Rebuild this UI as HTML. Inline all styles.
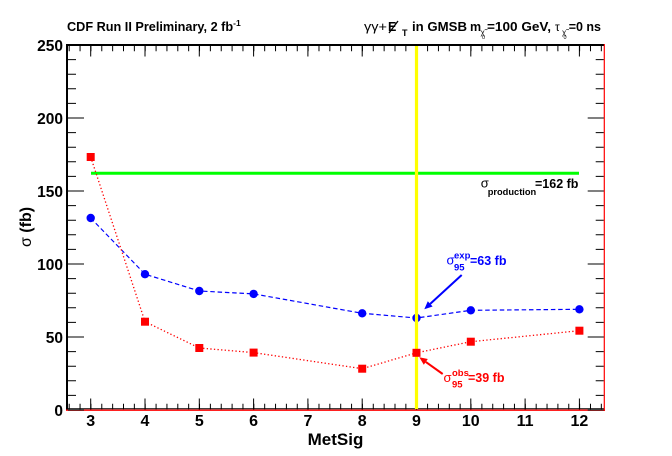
<!DOCTYPE html>
<html><head><meta charset="utf-8"><style>
html,body{margin:0;padding:0;background:#fff;}
svg{display:block;}
text{font-family:"Liberation Sans",Arial,sans-serif;}
.b{font-weight:bold;}
</style></head><body>
<svg xmlns="http://www.w3.org/2000/svg" width="672" height="456" viewBox="0 0 672 456">
<rect width="672" height="456" fill="#fff"/>

<!-- titles -->
<text x="67" y="31" class="b" font-size="12.7">CDF Run II Preliminary, 2 fb<tspan font-size="8.5" dy="-5">-1</tspan></text>

<g fill="#000">
<text x="364" y="31" font-size="13" textLength="23" lengthAdjust="spacingAndGlyphs">γγ+</text>
<text x="388" y="31" class="b" font-size="12.5">E</text>
<line x1="389" y1="33" x2="398" y2="21" stroke="#000" stroke-width="1.3"/>
<text x="402" y="36" class="b" font-size="9">T</text>
<text x="412" y="31" class="b" font-size="12.5" textLength="55" lengthAdjust="spacingAndGlyphs">in GMSB</text>
<text x="470" y="31" class="b" font-size="12.5">m</text>
<text x="480.5" y="35" font-size="8">χ̃</text><text x="482" y="39" font-size="5.5">0</text>
<text x="487" y="31" class="b" font-size="12.5" textLength="64" lengthAdjust="spacingAndGlyphs">=100 GeV,</text>
<text x="555" y="31" font-size="12">τ</text>
<text x="562" y="35" font-size="8">χ̃</text><text x="563.5" y="39" font-size="5.5">0</text>
<text x="601" y="31" class="b" font-size="12.5" text-anchor="end">=0 ns</text>
</g>

<!-- frame -->
<line x1="66.5" y1="45" x2="604" y2="45" stroke="#000" stroke-width="2"/>
<line x1="67" y1="44" x2="67" y2="410.5" stroke="#000" stroke-width="2"/>
<line x1="66" y1="408.8" x2="604" y2="408.8" stroke="#000" stroke-width="1"/>
<line x1="66" y1="410.2" x2="605" y2="410.2" stroke="#ff0000" stroke-width="1.3"/>
<line x1="604.3" y1="44" x2="604.3" y2="411" stroke="#ff0000" stroke-width="1.2"/>

<!-- x ticks bottom -->
<line x1="68.7" y1="406.5" x2="603" y2="406.5" stroke="#000" stroke-width="5.5" stroke-dasharray="1 9.86"/>
<line x1="90.2" y1="404" x2="603" y2="404" stroke="#000" stroke-width="11" stroke-dasharray="1 53.3"/>
<!-- x ticks top -->
<line x1="68.7" y1="48.5" x2="603" y2="48.5" stroke="#000" stroke-width="5.5" stroke-dasharray="1 9.86"/>
<line x1="90.2" y1="51" x2="603" y2="51" stroke="#000" stroke-width="11" stroke-dasharray="1 53.3"/>
<!-- y ticks left -->
<line x1="72" y1="410.5" x2="72" y2="44" stroke="#000" stroke-width="8" stroke-dasharray="1 13.6"/>
<line x1="76" y1="410.5" x2="76" y2="44" stroke="#000" stroke-width="16" stroke-dasharray="1 72"/>
<!-- y ticks right -->
<line x1="599.7" y1="410.5" x2="599.7" y2="44" stroke="#000" stroke-width="8" stroke-dasharray="1 13.6"/>
<line x1="595.7" y1="410.5" x2="595.7" y2="44" stroke="#000" stroke-width="16" stroke-dasharray="1 72"/>

<!-- y labels -->
<g class="b" font-size="15.5" text-anchor="end">
<text x="63" y="51">250</text>
<text x="63" y="124">200</text>
<text x="63" y="197">150</text>
<text x="63" y="270">100</text>
<text x="63" y="343">50</text>
<text x="63" y="416">0</text>
</g>
<!-- x labels -->
<g class="b" font-size="16" text-anchor="middle">
<text x="90.7" y="426">3</text>
<text x="145" y="426">4</text>
<text x="199.3" y="426">5</text>
<text x="253.6" y="426">6</text>
<text x="307.9" y="426">7</text>
<text x="362.2" y="426">8</text>
<text x="416.5" y="426">9</text>
<text x="470.8" y="426">10</text>
<text x="525.1" y="426">11</text>
<text x="579.4" y="426">12</text>
</g>
<!-- axis titles -->
<text x="335.5" y="445" class="b" font-size="17" text-anchor="middle">MetSig</text>
<text transform="translate(31,227) rotate(-90)" class="b" font-size="16" text-anchor="middle"><tspan font-weight="normal">σ</tspan> (fb)</text>

<!-- production line -->
<line x1="91" y1="173.3" x2="579" y2="173.3" stroke="#00ff00" stroke-width="3"/>

<!-- expected -->
<polyline fill="none" stroke="#0000ff" stroke-width="1.2" stroke-dasharray="4.5 2.8"
 points="90.7,218 145,274.2 199.3,291 253.6,293.9 362.2,313.3 416.5,318 470.8,310.3 579.4,309.3"/>
<g fill="#0000ff">
<circle cx="90.7" cy="218" r="4.2"/>
<circle cx="145" cy="274.2" r="4.2"/>
<circle cx="199.3" cy="291" r="4.2"/>
<circle cx="253.6" cy="293.9" r="4.2"/>
<circle cx="362.2" cy="313.3" r="4.2"/>
<circle cx="416.5" cy="318" r="4.2"/>
<circle cx="470.8" cy="310.3" r="4.2"/>
<circle cx="579.4" cy="309.3" r="4.2"/>
</g>

<!-- yellow line -->
<line x1="416.5" y1="46" x2="416.5" y2="409" stroke="#ffff00" stroke-width="3.2"/>

<!-- observed -->
<polyline fill="none" stroke="#ff0000" stroke-width="1.3" stroke-dasharray="1.3 2.3"
 points="90.7,157 145,321.7 199.3,348 253.6,352.6 362.2,368.7 416.5,352.8 470.8,341.7 579.4,330.7"/>
<g fill="#ff0000">
<rect x="86.7" y="153" width="8" height="8"/>
<rect x="141" y="317.7" width="8" height="8"/>
<rect x="195.3" y="344" width="8" height="8"/>
<rect x="249.6" y="348.6" width="8" height="8"/>
<rect x="358.2" y="364.7" width="8" height="8"/>
<rect x="412.5" y="348.8" width="8" height="8"/>
<rect x="466.8" y="337.7" width="8" height="8"/>
<rect x="575.4" y="326.7" width="8" height="8"/>
</g>

<!-- arrows -->
<line x1="461.7" y1="275" x2="430.2" y2="303.9" stroke="#0000ff" stroke-width="2"/>
<polygon points="424.3,309.3 432.6,306.5 427.8,301.3" fill="#0000ff"/>
<line x1="442.7" y1="374" x2="425.8" y2="361.9" stroke="#ff0000" stroke-width="2"/>
<polygon points="419.3,357.3 427.8,359.05 423.8,364.75" fill="#ff0000"/>

<!-- labels -->
<g fill="#000">
<text x="480.7" y="187.5" font-size="13">σ</text>
<text x="487.7" y="195" class="b" font-size="9.3">production</text>
<text x="535" y="188" class="b" font-size="12.5">=162 fb</text>
</g>
<g fill="#0000ff">
<text x="446.5" y="264.5" font-size="13">σ</text>
<text x="454" y="258.5" class="b" font-size="9.5">exp</text>
<text x="454" y="270.5" class="b" font-size="9.5">95</text>
<text x="470" y="265" class="b" font-size="12.5">=63 fb</text>
</g>
<g fill="#ff0000">
<text x="443.5" y="382" font-size="13">σ</text>
<text x="452" y="376" class="b" font-size="9.5">obs</text>
<text x="452" y="387.5" class="b" font-size="9.5">95</text>
<text x="468" y="382" class="b" font-size="12.5">=39 fb</text>
</g>
</svg>
</body></html>
